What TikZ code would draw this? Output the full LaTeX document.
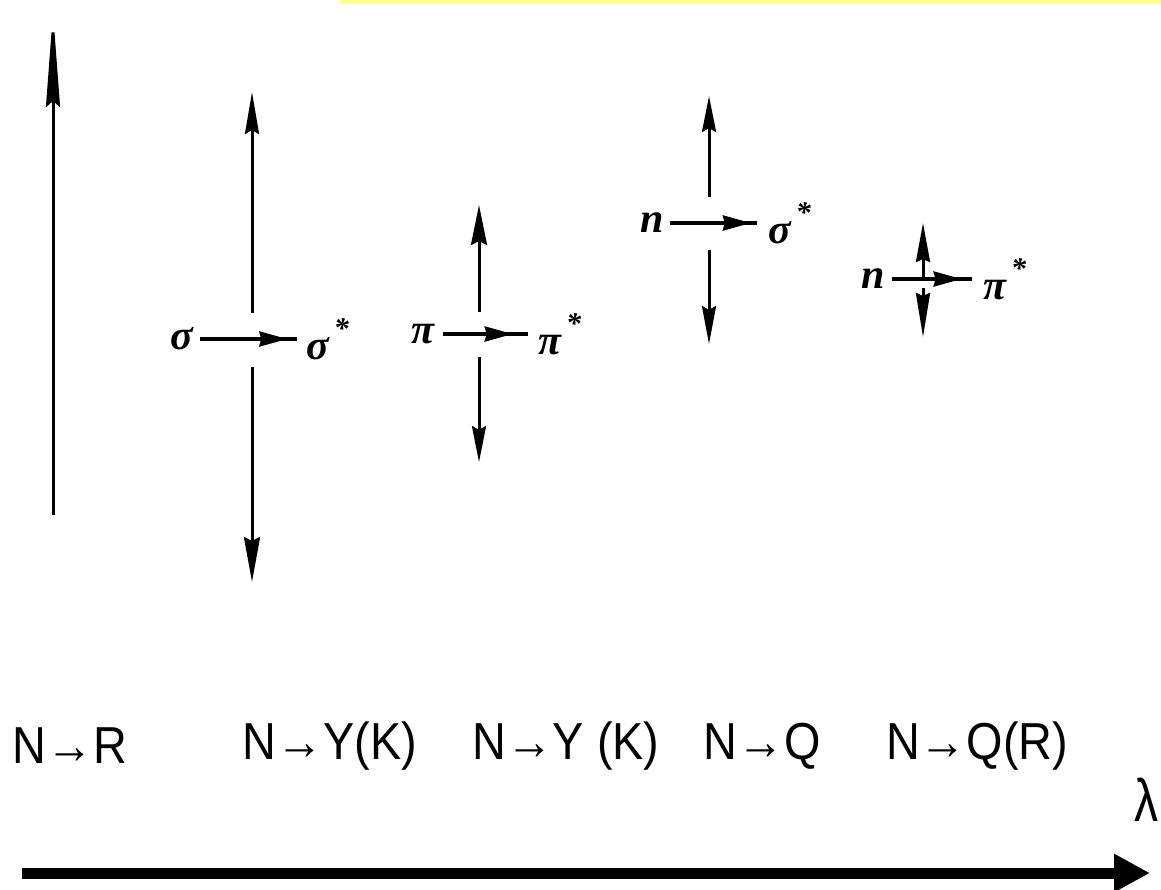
\documentclass[tikz,border=0pt]{standalone}
\usepackage{fontspec}
\newfontfamily\narrowsans[FakeStretch=0.9]{Liberation Sans}
\newfontfamily\lamsans[FakeStretch=0.8]{Liberation Sans}
\newfontfamily\greekfont{Liberation Serif}
\usetikzlibrary{arrows.meta,decorations.markings}
\definecolor{hiyellow}{RGB}{255,255,140}
\tikzset{
  vline/.style={line width=3pt},
  hline/.style={line width=3.4pt},
  greek/.style={font=\greekfont\bfseries\itshape\fontsize{42}{46}\selectfont, inner sep=0pt},
  trans/.style={font=\narrowsans\fontsize{52}{56}\selectfont, inner sep=0pt},
  midhead/.style={postaction={decorate}, decoration={markings,
      mark=at position #1 with {\arrow{Stealth[length=28pt,width=15pt,inset=2pt]}}}},
}
\newcommand{\starsup}{\hspace{0.12em}\raisebox{0.5em}{\fontsize{30}{30}\selectfont *}}
\begin{document}
\begin{tikzpicture}[x=1pt,y=-1pt]
\clip (0,0) rectangle (1161,889);
\fill[white] (0,0) rectangle (1161,889);
\fill[hiyellow] (340,0) rectangle (1161,2.5);

% N -> R
\coordinate (a1b) at (53,515);
\coordinate (a1t) at (53,12);
\draw[vline,-{Stealth[length=95pt,width=14pt,inset=6pt]}] (a1b) -- (a1t);

% sigma -> sigma*
\node[greek] (s1) at (182,339) {σ};
\node[greek,anchor=west] (s1s) at (306,339) {σ\starsup};
\coordinate (h1a) at (200,339);
\coordinate (h1b) at (297,339);
\coordinate (a2u0) at (252,313);
\coordinate (a2u1) at (252,92);
\coordinate (a2d0) at (252,367);
\coordinate (a2d1) at (252,582);
\draw[vline,-{Stealth[length=42pt,width=14pt,inset=4pt]}] (a2u0) -- (a2u1);
\draw[vline,-{Stealth[length=45pt,width=16pt,inset=4pt]}] (a2d0) -- (a2d1);

% pi -> pi*
\node[greek] (p1) at (423,334) {π};
\node[greek,anchor=west] (p1s) at (538,334) {π\starsup};
\coordinate (h2a) at (443,334);
\coordinate (h2b) at (528,334);
\coordinate (a3u0) at (479,312);
\coordinate (a3u1) at (479,205);
\coordinate (a3d0) at (479,357);
\coordinate (a3d1) at (479,462);
\draw[vline,-{Stealth[length=40pt,width=16pt,inset=4pt]}] (a3u0) -- (a3u1);
\draw[vline,-{Stealth[length=36pt,width=14pt,inset=4pt]}] (a3d0) -- (a3d1);

% n -> sigma*
\node[greek] (n1) at (652,223) {n};
\node[greek,anchor=west] (n1s) at (768,223) {σ\starsup};
\coordinate (h3a) at (670,223);
\coordinate (h3b) at (757,223);
\coordinate (a4u0) at (709,197);
\coordinate (a4u1) at (709,96);
\coordinate (a4d0) at (709,250);
\coordinate (a4d1) at (709,344);
\draw[vline,-{Stealth[length=36pt,width=14pt,inset=4pt]}] (a4u0) -- (a4u1);
\draw[vline,-{Stealth[length=38pt,width=14pt,inset=4pt]}] (a4d0) -- (a4d1);

% n -> pi*
\node[greek] (n2) at (873,279) {n};
\node[greek,anchor=west] (n2s) at (983,279) {π\starsup};
\coordinate (h4a) at (892,279);
\coordinate (h4b) at (972,279);
\coordinate (a5u0) at (923,279);
\coordinate (a5u1) at (923,223);
\coordinate (a5d0) at (923,288);
\coordinate (a5d1) at (923,337);
\draw[vline,-{Stealth[length=39pt,width=14pt,inset=3pt]}] (a5u0) -- (a5u1);
\draw[vline,-{Stealth[length=44pt,width=14pt,inset=3pt]}] (a5d0) -- (a5d1);

% horizontal transition arrows
\draw[hline,midhead=0.90] (h1a) -- (h1b);
\draw[hline,midhead=0.82] (h2a) -- (h2b);
\draw[hline,midhead=0.93] (h3a) -- (h3b);
\draw[hline,midhead=0.87] (h4a) -- (h4b);

% transition labels
\node[trans] (t1) at (70,746) {N→R};
\node[trans] (t2) at (330,746) {N→Y(K)};
\node[trans] (t3) at (566,746) {N→Y (K)};
\node[trans] (t4) at (762,746) {N→Q};
\node[trans] (t5) at (977,746) {N→Q(R)};

% wavelength axis
\node[font=\lamsans\fontsize{60}{64}\selectfont, inner sep=0pt, anchor=east] (lam) at (1159,800) {λ};
\coordinate (ax0) at (22,873);
\coordinate (ax1) at (1150,873);
\draw[line width=11pt,-{Triangle[length=36pt,width=36pt]}] (ax0) -- (ax1);
\end{tikzpicture}
\end{document}
